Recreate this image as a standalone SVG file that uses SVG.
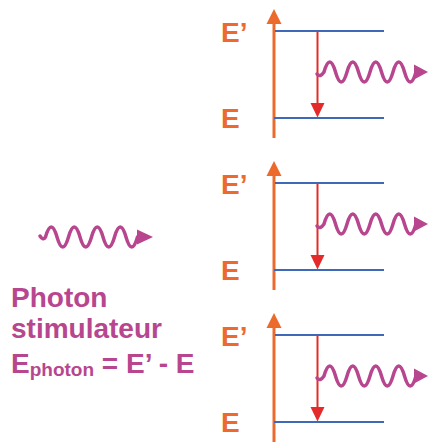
<svg xmlns="http://www.w3.org/2000/svg" width="428" height="442" viewBox="0 0 428 442">
<defs>
<style>
.lbl{font-family:"Liberation Sans",Arial,sans-serif;font-weight:bold;font-size:28px;fill:#EC6A2C}
.txt{font-family:"Liberation Sans",Arial,sans-serif;font-weight:bold;font-size:28px;fill:#B8468F}
.axis{stroke:#EC6A2C;stroke-width:3;fill:none}
.axh{fill:#EC6A2C}
.lvl{stroke:#4068B8;stroke-width:2;fill:none}
.tr{stroke:#E42A2A;stroke-width:2;fill:none}
.trh{fill:#E42A2A}
.wave{stroke:#B8468F;stroke-width:3.5;fill:none;stroke-linecap:round}
.wh{fill:#B8468F}
</style>
<g id="panel">
<text class="lbl" x="221" y="42">E’</text>
<text class="lbl" x="221" y="128">E</text>
<line class="axis" x1="274" y1="22" x2="274" y2="138"/>
<polygon class="axh" points="274,9 266.5,24 281.5,24"/>
<line class="lvl" x1="275" y1="31" x2="384" y2="31"/>
<line class="lvl" x1="274" y1="118" x2="384" y2="118"/>
<line class="tr" x1="317.5" y1="31" x2="317.5" y2="105"/>
<polygon class="trh" points="317.5,117.5 310.5,103 324.5,103"/>
<path class="wave" d="M317,74 Q320,78 324,72 Q329.75,52 335.5,72 Q341.25,92 347,72 Q352.75,52 358.5,72 Q364.25,92 370,72 Q375.75,52 381.5,72 Q387.25,92 393,72 Q398.75,52 404.5,72 Q410.25,92 416,72"/>
<polygon class="wh" points="414,64.5 428,72 414,79.5"/>
</g>
</defs>
<g id="level1"><use href="#panel"/></g>
<g id="level2"><use href="#panel" transform="translate(0,152)"/></g>
<g id="level3"><use href="#panel" transform="translate(0,304)"/></g>
<g id="photon">
<path class="wave" d="M40,236 Q43,241 45.5,237 Q51.25,217 57,237 Q62.75,257 68.5,237 Q74.25,217 80,237 Q85.75,257 91.5,237 Q97.25,217 103,237 Q108.75,257 114.5,237 Q120.25,217 126,237 Q131.75,257 137.5,237"/>
<polygon class="wh" points="137,229.5 153,237 137,244.5"/>
</g>
<g id="caption">
<text class="txt" x="11" y="307">Photon</text>
<text class="txt" x="11" y="338">stimulateur</text>
<text class="txt" x="11" y="373">E<tspan font-size="19" dy="3">photon</tspan><tspan dy="-3"> = E’ - E</tspan></text>
</g>
</svg>
